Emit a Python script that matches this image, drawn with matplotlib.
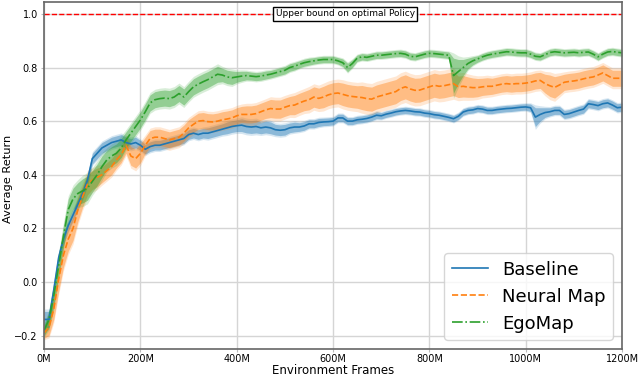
import numpy as np
import matplotlib
matplotlib.use("Agg")
import matplotlib.pyplot as plt
from matplotlib.ticker import FuncFormatter

# frames in millions, one sample every 10M
frames = np.arange(0, 1201, 10)

baseline = [
    -0.14, -0.14, -0.03, 0.09, 0.16, 0.21, 0.25, 0.29, 0.33, 0.38,
    0.46, 0.48, 0.50, 0.51, 0.52, 0.525, 0.53, 0.52, 0.515, 0.52,
    0.51, 0.495, 0.505, 0.51, 0.51, 0.515, 0.52, 0.525, 0.53, 0.535,
    0.55, 0.555, 0.55, 0.555, 0.555, 0.56, 0.565, 0.57, 0.575, 0.58,
    0.583, 0.585, 0.58, 0.578, 0.58, 0.575, 0.578, 0.575, 0.568, 0.566,
    0.568, 0.575, 0.578, 0.578, 0.582, 0.59, 0.59, 0.595, 0.597, 0.598,
    0.60, 0.612, 0.612, 0.60, 0.60, 0.605, 0.607, 0.61, 0.615, 0.622,
    0.62, 0.626, 0.63, 0.635, 0.638, 0.64, 0.638, 0.635, 0.634, 0.63,
    0.628, 0.624, 0.622, 0.618, 0.614, 0.609, 0.618, 0.634, 0.64, 0.642,
    0.647, 0.645, 0.64, 0.64, 0.643, 0.645, 0.647, 0.648, 0.65, 0.652,
    0.653, 0.65, 0.615, 0.625, 0.632, 0.635, 0.64, 0.64, 0.625, 0.628,
    0.634, 0.64, 0.645, 0.665, 0.662, 0.658, 0.665, 0.668, 0.66, 0.65,
    0.652,
]
baseline_sd = [
    0.03, 0.03, 0.025, 0.02, 0.02, 0.02, 0.02, 0.02, 0.02, 0.02,
    0.02, 0.02, 0.02, 0.02, 0.02, 0.02, 0.02, 0.02, 0.02, 0.02,
    0.018, 0.018, 0.018, 0.018, 0.018, 0.018, 0.018, 0.018, 0.018, 0.018,
    0.018, 0.018, 0.018, 0.018, 0.02, 0.02, 0.02, 0.02, 0.022, 0.022,
    0.022, 0.024, 0.024, 0.024, 0.024, 0.022, 0.022, 0.022, 0.02, 0.02,
    0.02, 0.018, 0.018, 0.016, 0.016, 0.015, 0.015, 0.015, 0.014, 0.014,
    0.014, 0.014, 0.014, 0.013, 0.013, 0.013, 0.013, 0.013, 0.013, 0.013,
    0.012, 0.012, 0.012, 0.012, 0.012, 0.012, 0.012, 0.012, 0.012, 0.012,
    0.012, 0.012, 0.012, 0.012, 0.012, 0.012, 0.012, 0.012, 0.012, 0.012,
    0.012, 0.012, 0.012, 0.012, 0.012, 0.012, 0.012, 0.012, 0.012, 0.012,
    0.012, 0.014, 0.035, 0.025, 0.018, 0.015, 0.015, 0.015, 0.015, 0.015,
    0.015, 0.015, 0.015, 0.015, 0.015, 0.015, 0.015, 0.015, 0.015, 0.015,
    0.015,
]

neural_map = [
    -0.19, -0.17, -0.10, 0.01, 0.10, 0.16, 0.20, 0.27, 0.32, 0.365,
    0.38, 0.39, 0.40, 0.415, 0.43, 0.455, 0.475, 0.51, 0.47, 0.46,
    0.48, 0.51, 0.535, 0.54, 0.54, 0.535, 0.53, 0.535, 0.54, 0.555,
    0.575, 0.588, 0.60, 0.602, 0.598, 0.597, 0.60, 0.605, 0.608, 0.612,
    0.62, 0.625, 0.625, 0.625, 0.628, 0.635, 0.642, 0.647, 0.645, 0.645,
    0.652, 0.658, 0.66, 0.668, 0.675, 0.68, 0.69, 0.685, 0.69, 0.698,
    0.703, 0.705, 0.70, 0.695, 0.692, 0.69, 0.688, 0.684, 0.682, 0.69,
    0.695, 0.70, 0.705, 0.71, 0.722, 0.728, 0.72, 0.715, 0.716, 0.722,
    0.728, 0.734, 0.73, 0.732, 0.736, 0.74, 0.728, 0.73, 0.727, 0.725,
    0.725, 0.728, 0.73, 0.73, 0.734, 0.738, 0.74, 0.738, 0.74, 0.74,
    0.742, 0.745, 0.75, 0.752, 0.74, 0.732, 0.726, 0.735, 0.745, 0.748,
    0.75, 0.753, 0.758, 0.762, 0.765, 0.772, 0.78, 0.77, 0.76, 0.76,
    0.76,
]
neural_map_sd = [
    0.02, 0.03, 0.04, 0.045, 0.045, 0.045, 0.045, 0.045, 0.04, 0.04,
    0.035, 0.035, 0.03, 0.03, 0.03, 0.03, 0.03, 0.03, 0.035, 0.035,
    0.035, 0.03, 0.03, 0.03, 0.03, 0.03, 0.03, 0.03, 0.03, 0.03,
    0.03, 0.03, 0.03, 0.03, 0.03, 0.03, 0.03, 0.03, 0.03, 0.03,
    0.03, 0.03, 0.032, 0.032, 0.032, 0.032, 0.032, 0.034, 0.034, 0.034,
    0.034, 0.034, 0.036, 0.036, 0.036, 0.038, 0.038, 0.038, 0.04, 0.04,
    0.04, 0.04, 0.042, 0.042, 0.042, 0.042, 0.045, 0.045, 0.045, 0.045,
    0.045, 0.045, 0.045, 0.045, 0.045, 0.045, 0.045, 0.045, 0.045, 0.045,
    0.045, 0.045, 0.045, 0.045, 0.045, 0.045, 0.04, 0.04, 0.038, 0.036,
    0.034, 0.032, 0.032, 0.03, 0.03, 0.03, 0.03, 0.03, 0.03, 0.03,
    0.03, 0.03, 0.03, 0.03, 0.035, 0.04, 0.04, 0.035, 0.03, 0.03,
    0.03, 0.03, 0.03, 0.03, 0.03, 0.03, 0.03, 0.03, 0.03, 0.03,
    0.03,
]

egomap = [
    -0.18, -0.14, -0.05, 0.06, 0.17, 0.27, 0.31, 0.33, 0.34, 0.35,
    0.375, 0.40, 0.43, 0.455, 0.47, 0.48, 0.50, 0.53, 0.555, 0.58,
    0.605, 0.635, 0.668, 0.68, 0.684, 0.686, 0.684, 0.69, 0.703, 0.69,
    0.71, 0.728, 0.738, 0.747, 0.755, 0.765, 0.775, 0.772, 0.765, 0.762,
    0.765, 0.768, 0.77, 0.768, 0.766, 0.768, 0.772, 0.775, 0.78, 0.785,
    0.79, 0.80, 0.805, 0.812, 0.818, 0.822, 0.825, 0.828, 0.83, 0.83,
    0.83, 0.825, 0.818, 0.80, 0.815, 0.835, 0.84, 0.838, 0.842, 0.846,
    0.846, 0.848, 0.85, 0.852, 0.853, 0.85, 0.842, 0.84, 0.845, 0.85,
    0.853, 0.852, 0.85, 0.848, 0.846, 0.77, 0.785, 0.80, 0.815, 0.825,
    0.832, 0.84, 0.846, 0.85, 0.853, 0.856, 0.859, 0.858, 0.856, 0.855,
    0.855, 0.85, 0.842, 0.84, 0.848, 0.856, 0.859, 0.857, 0.855, 0.856,
    0.857, 0.855, 0.857, 0.858, 0.85, 0.84, 0.85, 0.858, 0.86, 0.857,
    0.855,
]
egomap_sd = [
    0.02, 0.03, 0.04, 0.04, 0.04, 0.04, 0.04, 0.04, 0.045, 0.045,
    0.04, 0.04, 0.04, 0.035, 0.035, 0.035, 0.035, 0.03, 0.03, 0.03,
    0.03, 0.03, 0.03, 0.03, 0.03, 0.03, 0.03, 0.03, 0.03, 0.03,
    0.03, 0.03, 0.03, 0.03, 0.03, 0.03, 0.03, 0.025, 0.025, 0.025,
    0.02, 0.018, 0.016, 0.015, 0.015, 0.015, 0.015, 0.014, 0.014, 0.014,
    0.014, 0.014, 0.014, 0.013, 0.013, 0.013, 0.012, 0.012, 0.012, 0.012,
    0.012, 0.012, 0.014, 0.016, 0.014, 0.012, 0.012, 0.012, 0.012, 0.012,
    0.012, 0.012, 0.012, 0.012, 0.012, 0.012, 0.012, 0.012, 0.012, 0.012,
    0.012, 0.012, 0.012, 0.012, 0.012, 0.065, 0.045, 0.03, 0.02, 0.015,
    0.012, 0.012, 0.012, 0.012, 0.012, 0.012, 0.012, 0.012, 0.012, 0.012,
    0.012, 0.012, 0.012, 0.012, 0.012, 0.012, 0.012, 0.012, 0.012, 0.012,
    0.012, 0.012, 0.012, 0.012, 0.012, 0.012, 0.012, 0.012, 0.012, 0.012,
    0.012,
]

series = [
    ("Baseline", baseline, baseline_sd, "#1f77b4", "-"),
    ("Neural Map", neural_map, neural_map_sd, "#ff7f0e", "--"),
    ("EgoMap", egomap, egomap_sd, "#2ca02c", "-."),
]

fig = plt.figure(figsize=(6.4, 3.76), dpi=100)
ax = fig.add_axes([0.069, 0.072, 0.903, 0.923])

for name, mean, sd, color, ls in series:
    mean = np.array(mean)
    sd = np.array(sd)
    # lighter outer halo + inner band
    ax.fill_between(frames, mean - 1.3 * sd, mean + 1.3 * sd, color=color, alpha=0.18, linewidth=0)
    ax.fill_between(frames, mean - sd, mean + sd, color=color, alpha=0.4, linewidth=0)
    ax.plot(frames, mean, color=color, linestyle=ls, linewidth=1.2, label=name)

ax.axhline(1.0, color="red", linestyle="--", linewidth=1.0)
ax.text(625, 1.0, "Upper bound on optimal Policy", fontsize=6.5, ha="center", va="center",
        bbox=dict(boxstyle="square,pad=0.25", facecolor="white", edgecolor="black", linewidth=1.0))

ax.set_xlim(0, 1200)
ax.set_ylim(-0.25, 1.045)
ax.set_xticks(np.arange(0, 1201, 200))
ax.set_yticks([-0.2, 0.0, 0.2, 0.4, 0.6, 0.8, 1.0])
ax.xaxis.set_major_formatter(FuncFormatter(lambda v, p: f"{int(v)}M"))
ax.tick_params(labelsize=7, length=2.5, width=0.8, color="#bbbbbb", pad=2)
ax.tick_params(axis="x", pad=1.5)
ax.grid(True, color="#d5d5d5", linewidth=1.0)
ax.set_axisbelow(True)
for spine in ax.spines.values():
    spine.set_color("#666666")
    spine.set_linewidth(1.2)

ax.set_xlabel("Environment Frames", fontsize=8.5)
ax.xaxis.set_label_coords(0.5, -0.043)
ax.set_ylabel("Average Return", fontsize=8.2)
ax.yaxis.set_label_coords(-0.054, 0.49)

ax.legend(loc="lower right", fontsize=13, handlelength=2.0)

fig.savefig("out.png", dpi=100)
